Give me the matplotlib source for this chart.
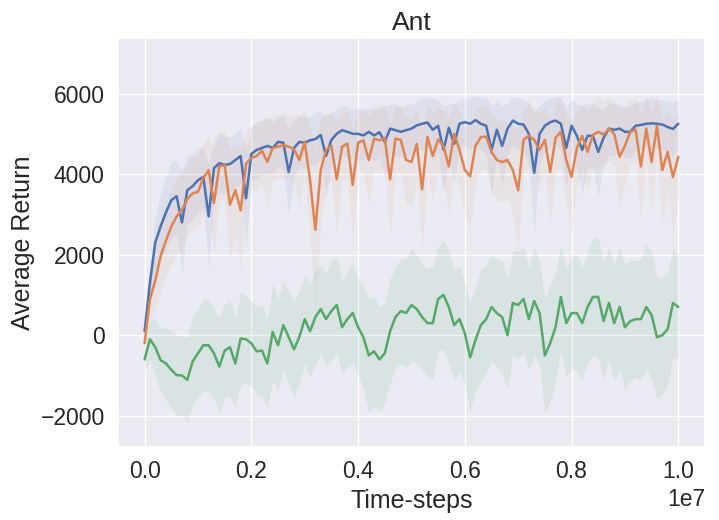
import numpy as np
import seaborn as sns
from matplotlib import pyplot as plt

blue = [100, 1300, 2300, 2700, 3050, 3350, 3450, 2800, 3600, 3700,
        3850, 3930, 2950, 4150, 4270, 4230, 4250, 4350, 4450, 3400,
        4500, 4600, 4650, 4700, 4650, 4800, 4780, 4050, 4650, 4800,
        4780, 4840, 4870, 4970, 4450, 4850, 5000, 5090, 5050, 5000,
        5000, 4960, 5050, 4960, 5040, 4800, 5130, 5090, 5050, 5090,
        5130, 5210, 5250, 5280, 5100, 5200, 4600, 5150, 4750, 5250,
        5290, 5250, 5340, 5250, 5200, 4600, 5100, 4700, 5130, 5330,
        5250, 5230, 5000, 4030, 5000, 5200, 5290, 5330, 5250, 4650,
        5200, 4950, 4600, 4950, 4950, 4550, 4900, 5130, 5100, 5130,
        5050, 5050, 5200, 5220, 5250, 5260, 5250, 5230, 5170, 5120, 5250]
orange = [-200, 900, 1350, 1960, 2350, 2700, 2950, 3110, 3380, 3520,
          3560, 3900, 4100, 3280, 4200, 4220, 3240, 3600, 3100, 4260,
          4400, 4450, 4580, 4300, 4650, 4680, 4720, 4680, 4620, 4350,
          4800, 3850, 2620, 4100, 4600, 4700, 3870, 4680, 4760, 3730,
          4780, 4840, 4350, 4880, 4840, 4900, 3870, 4880, 4850, 4350,
          4300, 4750, 3620, 4920, 4450, 4860, 4700, 4190, 5000, 4600,
          4100, 3950, 4700, 4920, 4930, 4550, 4350, 4300, 4350, 4100,
          3600, 4850, 4950, 4850, 4600, 4850, 4050, 4900, 5050, 4350,
          3930, 4650, 4950, 4550, 4970, 5050, 4980, 5130, 5000, 4430,
          4700, 5050, 5100, 4190, 5130, 4300, 5200, 4100, 4550, 3930, 4430]
green = [-600, -100, -300, -620, -700, -860, -990, -1000, -1110, -650,
         -450, -250, -250, -450, -780, -380, -300, -700, -80, -100,
         -200, -400, -380, -700, 80, -250, 250, -50, -350, -40,
         400, 100, 450, 650, 400, 600, 750, 200, 400, 550,
         200, -50, -500, -400, -600, -450, 100, 450, 600, 550,
         750, 650, 450, 300, 300, 900, 1000, 700, 250, 400,
         50, -550, -120, 250, 400, 700, 550, 450, 0, 800,
         750, 900, 400, 850, 550, -500, -200, 200, 950, 300,
         550, 550, 300, 700, 950, 950, 350, 800, 300, 700,
         200, 350, 400, 400, 700, 500, -50, 0, 150, 800, 700]

blue_std = [150, 500, 700, 800, 900, 950, 900, 1300, 850, 800,
            800, 750, 1300, 700, 750, 700, 700, 650, 700, 1200,
            650, 700, 650, 700, 650, 600, 650, 1100, 700, 650,
            650, 600, 650, 600, 1000, 650, 600, 600, 650, 600,
            650, 600, 600, 650, 600, 900, 600, 650, 600, 650,
            600, 600, 650, 600, 800, 650, 1100, 600, 1000, 600,
            600, 650, 600, 650, 700, 1100, 700, 1000, 650, 600,
            650, 600, 800, 1500, 700, 650, 600, 600, 650, 1000,
            650, 800, 1100, 800, 800, 1100, 700, 650, 650, 600,
            650, 650, 600, 600, 600, 650, 600, 600, 650, 650, 600]
orange_std = [200, 500, 700, 850, 900, 950, 950, 950, 900, 900,
              900, 850, 850, 1300, 850, 850, 1400, 1100, 1500, 850,
              800, 850, 800, 1100, 800, 800, 800, 800, 850, 1100,
              800, 1300, 2000, 1300, 900, 850, 1400, 850, 800, 1400,
              800, 800, 1100, 800, 850, 800, 1400, 800, 850, 1100,
              1100, 850, 1500, 800, 1100, 800, 900, 1200, 800, 950,
              1100, 1300, 900, 800, 800, 950, 1000, 1000, 950, 1100,
              1500, 800, 800, 800, 900, 800, 1300, 800, 900, 1100,
              1400, 950, 800, 1000, 800, 850, 800, 800, 800, 1200,
              950, 800, 800, 1300, 800, 1200, 800, 1300, 1000, 1400, 1100]
green_std = [300, 500, 700, 800, 900, 950, 1000, 1000, 1050, 1100,
             1100, 1150, 1150, 1100, 1200, 1150, 1200, 1100, 1150, 1100,
             1050, 1100, 1150, 1100, 1200, 1150, 1100, 1150, 1200, 1150,
             1100, 1150, 1200, 1100, 1150, 1250, 1200, 1150, 1200, 1250,
             1200, 1300, 1400, 1350, 1300, 1250, 1300, 1250, 1300, 1350,
             1400, 1350, 1300, 1350, 1400, 1300, 1350, 1400, 1350, 1300,
             1250, 1350, 1300, 1400, 1350, 1300, 1350, 1400, 1350, 1300,
             1350, 1300, 1250, 1350, 1300, 1400, 1450, 1350, 1300, 1350,
             1400, 1450, 1400, 1350, 1450, 1500, 1450, 1400, 1450, 1500,
             1550, 1500, 1450, 1500, 1550, 1600, 1500, 1450, 1400, 1350, 1300]

steps = np.arange(len(blue)) * 1e5

sns.set_theme(style='darkgrid')
plt.rcParams['font.family'] = ['Liberation Sans', 'DejaVu Sans']
plt.rcParams['xtick.labelsize'] = 16.5
plt.rcParams['ytick.labelsize'] = 16.5
plt.rcParams['axes.labelsize'] = 18
plt.rcParams['axes.titlesize'] = 19
plt.rcParams['font.size'] = 16.5
colors = sns.color_palette('deep')

fig = plt.figure(figsize=(7.19, 5.2), dpi=100)
ax = fig.add_axes([0.164, 0.140, 0.8165, 0.787])

for mean, std, c, a in [(blue, blue_std, colors[0], 0.08), (orange, orange_std, colors[1], 0.08),
                        (green, green_std, colors[2], 0.1)]:
    mean = np.array(mean, dtype=float)
    std = np.array(std, dtype=float)
    ax.fill_between(steps, mean - std, mean + std, color=c, alpha=a, linewidth=0)
for mean, c in [(blue, colors[0]), (orange, colors[1]), (green, colors[2])]:
    ax.plot(steps, mean, color=c, linewidth=1.8)

ax.set_xlim(-0.05e7, 1.05e7)
ax.set_ylim(-2780, 7380)
ax.set_yticks([-2000, 0, 2000, 4000, 6000])
ax.set_title('Ant')
ax.set_xlabel('Time-steps')
ax.set_ylabel('Average Return')

fig.savefig('out.png', dpi=100)
